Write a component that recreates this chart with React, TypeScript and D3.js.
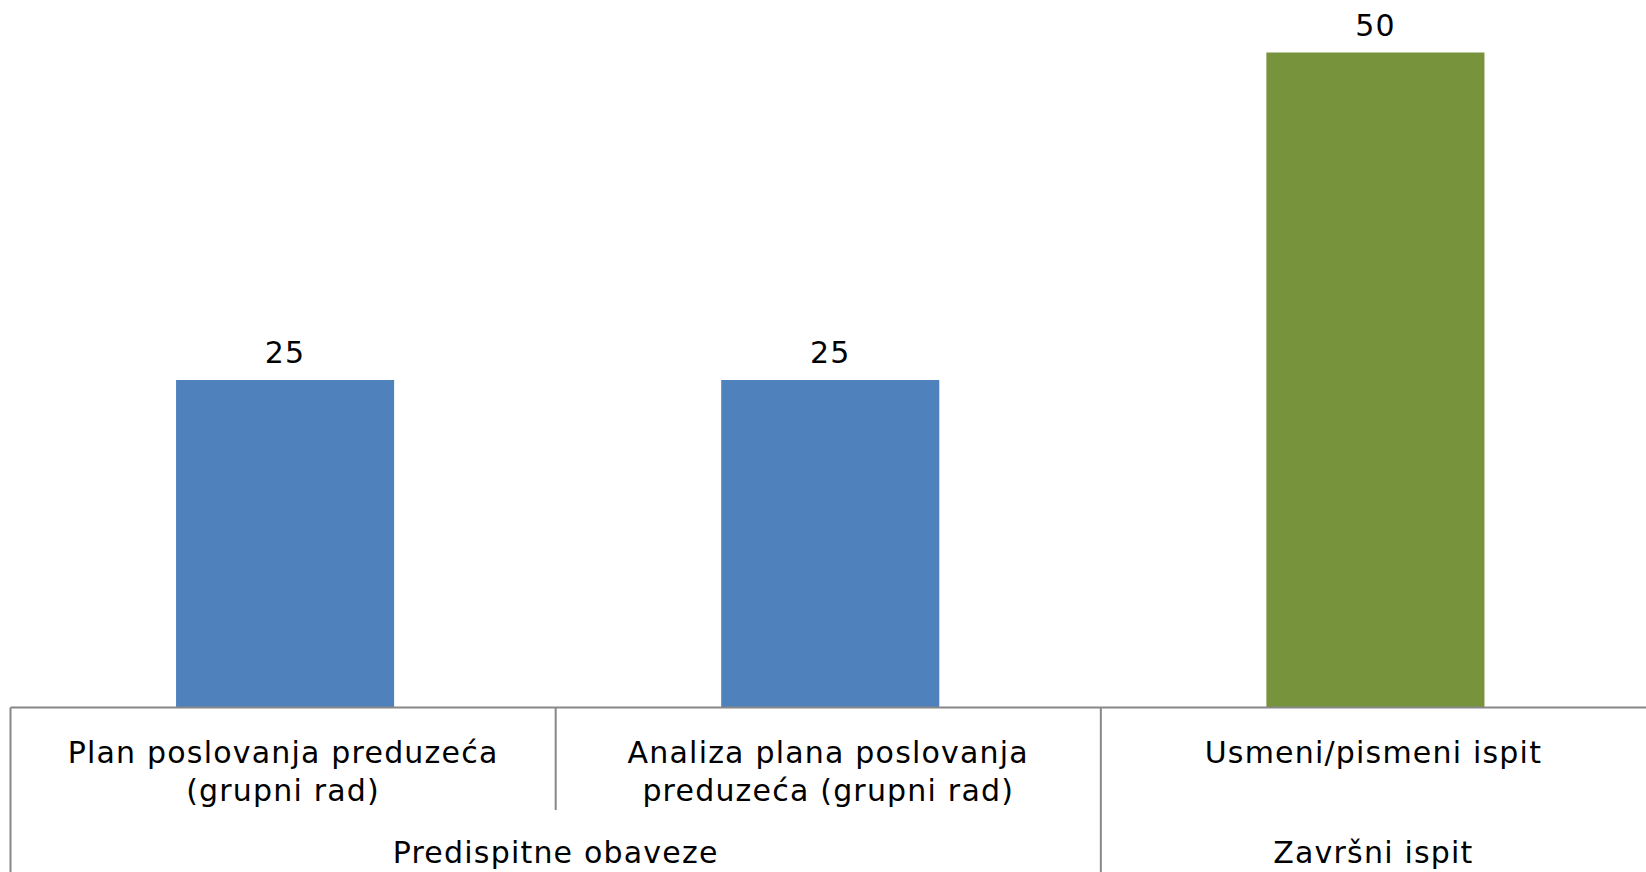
import * as d3 from 'd3'

const categories = [
  ['Plan poslovanja preduzeća', '(grupni rad)'],
  ['Analiza plana poslovanja', 'preduzeća (grupni rad)'],
  ['Usmeni/pismeni ispit'],
]
const values = [25, 25, 50]
const groups = [
  { label: 'Predispitne obaveze', span: 2 },
  { label: 'Završni ispit', span: 1 },
]
const barColors = ['#4F81BD', '#4F81BD', '#77933C']

const width = 1646
const height = 872
const baseline = 707.5
const font = 'Verdana, "DejaVu Sans", sans-serif'

const App = () => {
  const left = 10.5
  const x = d3
    .scaleBand<number>()
    .domain(d3.range(categories.length))
    .range([left + 2, width + 2])
    .paddingInner(0.6)
    .paddingOuter(0.3)
  const step = (width - left) / categories.length
  const y = d3.scaleLinear().domain([0, 50]).range([baseline, 52.5])

  let acc = 0
  const groupPos = groups.map((g) => {
    const start = left + acc * step
    acc += g.span
    return { ...g, start, end: left + acc * step }
  })

  const textProps = { fontSize: 30, letterSpacing: 1.2, fill: '#000', textAnchor: 'middle' as const }

  return (
    <svg
      width={width}
      height={height}
      style={{ position: 'absolute', left: 0, top: 0, background: '#fff' }}
      fontFamily={font}
    >
      {values.map((v, i) => (
        <g key={i}>
          <rect
            x={x(i)}
            y={y(v)}
            width={x.bandwidth()}
            height={baseline - y(v)}
            fill={barColors[i]}
          />
          <text x={(x(i) ?? 0) + x.bandwidth() / 2} y={y(v) - 17} {...textProps}>
            {v}
          </text>
        </g>
      ))}
      <line x1={left} x2={width} y1={baseline} y2={baseline} stroke="#878787" strokeWidth={2} />
      {/* category separators */}
      {categories.map((_, i) => {
        const xx = left + i * step
        const groupEdge = groupPos.some((g) => Math.abs(g.start - xx) < 1)
        return (
          <line
            key={i}
            x1={xx}
            x2={xx}
            y1={baseline}
            y2={groupEdge ? height : 810}
            stroke="#878787"
            strokeWidth={2}
          />
        )
      })}
      {categories.map((lines, i) => {
        const cx = left + (i + 0.5) * step
        return (
          <text key={i} x={cx} {...textProps}>
            {lines.map((l, j) => (
              <tspan key={j} x={cx} y={763 + j * 38}>
                {l}
              </tspan>
            ))}
          </text>
        )
      })}
      {groupPos.map((g, i) => (
        <text key={i} x={(g.start + g.end) / 2} y={863} {...textProps}>
          {g.label}
        </text>
      ))}
    </svg>
  )
}

export default App
